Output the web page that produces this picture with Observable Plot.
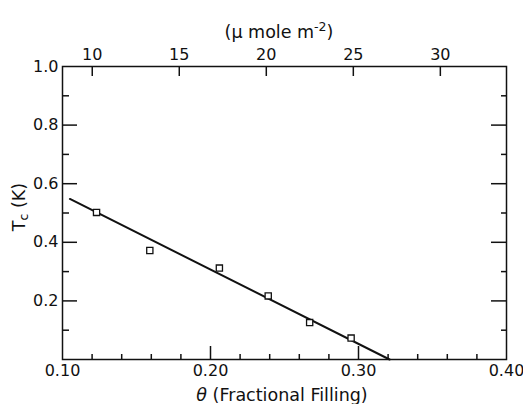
<!DOCTYPE html>
<html>
<head>
<meta charset="utf-8">
<script src="https://cdn.jsdelivr.net/npm/d3@7"></script>
<script src="https://cdn.jsdelivr.net/npm/@observablehq/plot@0.6"></script>
<style>
  body { margin: 0; background: #fff; }
  svg { display: block; }
</style>
</head>
<body>
<div id="chart"></div>
<script>
// Measured transition temperatures vs. fractional filling
const theta = [0.123, 0.159, 0.206, 0.239, 0.267, 0.295];
const tc = [0.502, 0.372, 0.312, 0.217, 0.126, 0.073];

// Straight-line fit through the points
const fitTheta = [0.105, 0.321];
const fitTc = [0.548, 0.0];

// Axis ticks
const xMajor = [0.10, 0.20, 0.30, 0.40];
const xMinor = [0.12, 0.14, 0.16, 0.18, 0.22, 0.24, 0.26, 0.28, 0.32, 0.34, 0.36, 0.38];
const yLabeled = [0.2, 0.4, 0.6, 0.8, 1.0];
const yMajor = [0.2, 0.4, 0.6, 0.8];
const yMinor = [0.1, 0.3, 0.5, 0.7, 0.9];
const coverageTicks = [10, 15, 20, 25, 30]; // µmole m⁻²

// Conversion between surface coverage (µmole m⁻²) and fractional filling θ
const thetaPerCoverage = 0.01176;
const thetaOffset = 0.0025;
const toTheta = m => thetaOffset + thetaPerCoverage * m;
const toCoverage = t => (t - thetaOffset) / thetaPerCoverage;

const points = theta.map((t, i) => ({theta: t, tc: tc[i]}));
const fit = fitTheta.map((t, i) => ({theta: t, tc: fitTc[i]}));

const W = 523, H = 404;
const M = {left: 62, right: 17, top: 66, bottom: 45};
const innerW = W - M.left - M.right;
const innerH = H - M.top - M.bottom;

const ink = "#111";
const font = "'DejaVu Sans', sans-serif";
const tickStyle = {stroke: ink, strokeWidth: 1.5};

// inward tick marks: a tick spanning the frame, inset so only `len` pixels remain
const leftTicks = (values, len) => Plot.tickY(values, {y: d => d, insetRight: innerW - len, ...tickStyle});
const rightTicks = (values, len) => Plot.tickY(values, {y: d => d, insetLeft: innerW - len, ...tickStyle});
const bottomTicks = (values, len) => Plot.tickX(values, {x: d => d, insetTop: innerH - len, ...tickStyle});
const topTicks = (values, len) => Plot.tickX(values, {x: d => d, insetBottom: innerH - len, ...tickStyle});

const chart = Plot.plot({
  width: W,
  height: H,
  marginLeft: M.left,
  marginRight: M.right,
  marginTop: M.top,
  marginBottom: M.bottom,
  style: {fontFamily: font, fontSize: "16px", color: ink, background: "#fff"},
  x: {domain: [0.10, 0.40]},
  y: {domain: [0, 1]},
  marks: [
    leftTicks(yMajor, 15),
    leftTicks(yMinor, 7),
    rightTicks(yMajor, 15),
    rightTicks(yMinor, 5),
    bottomTicks(xMajor.slice(1, -1), 13),
    bottomTicks(xMinor, 5),
    topTicks(coverageTicks.map(toTheta), 10),
    Plot.frame({stroke: ink, strokeWidth: 1.5}),

    // tick labels
    Plot.axisY({anchor: "left", ticks: yLabeled, tickSize: 0, tickPadding: 4, tickFormat: ".1f", label: null}),
    Plot.axisX({anchor: "bottom", ticks: xMajor, tickSize: 0, tickPadding: 5, tickFormat: ".2f", label: null}),
    Plot.axisX({anchor: "top", ticks: coverageTicks.map(toTheta), tickSize: 0, tickPadding: 7,
                tickFormat: t => String(Math.round(toCoverage(t))), label: null}),

    // fit line and measured points
    Plot.line(fit, {x: "theta", y: "tc", stroke: ink, strokeWidth: 2}),
    Plot.dot(points, {x: "theta", y: "tc", symbol: "square", r: 3.5, stroke: ink, strokeWidth: 1.3, fill: "#fff"})
  ]
});

// Axis titles with sub/superscripts
const titles = d3.select(chart).append("g")
  .attr("fill", ink)
  .attr("font-family", font)
  .attr("font-size", 17.5);

const topTitle = titles.append("text").attr("x", 279).attr("y", 38).attr("text-anchor", "middle");
topTitle.append("tspan").text("(µ mole m");
topTitle.append("tspan").attr("dy", -7).attr("font-size", 12.5).text("-2");
topTitle.append("tspan").attr("dy", 7).text(")");

const bottomTitle = titles.append("text").attr("x", 282).attr("y", 401).attr("text-anchor", "middle");
bottomTitle.append("tspan").attr("font-style", "italic").text("θ");
bottomTitle.append("tspan").text(" (Fractional Filling)");

const leftTitle = titles.append("text")
  .attr("transform", "translate(25,207) rotate(-90)")
  .attr("text-anchor", "middle");
leftTitle.append("tspan").text("T");
leftTitle.append("tspan").attr("dy", 3).attr("font-size", 12.5).text("c");
leftTitle.append("tspan").attr("dy", -3).text(" (K)");

document.getElementById("chart").appendChild(chart);
</script>
</body>
</html>
